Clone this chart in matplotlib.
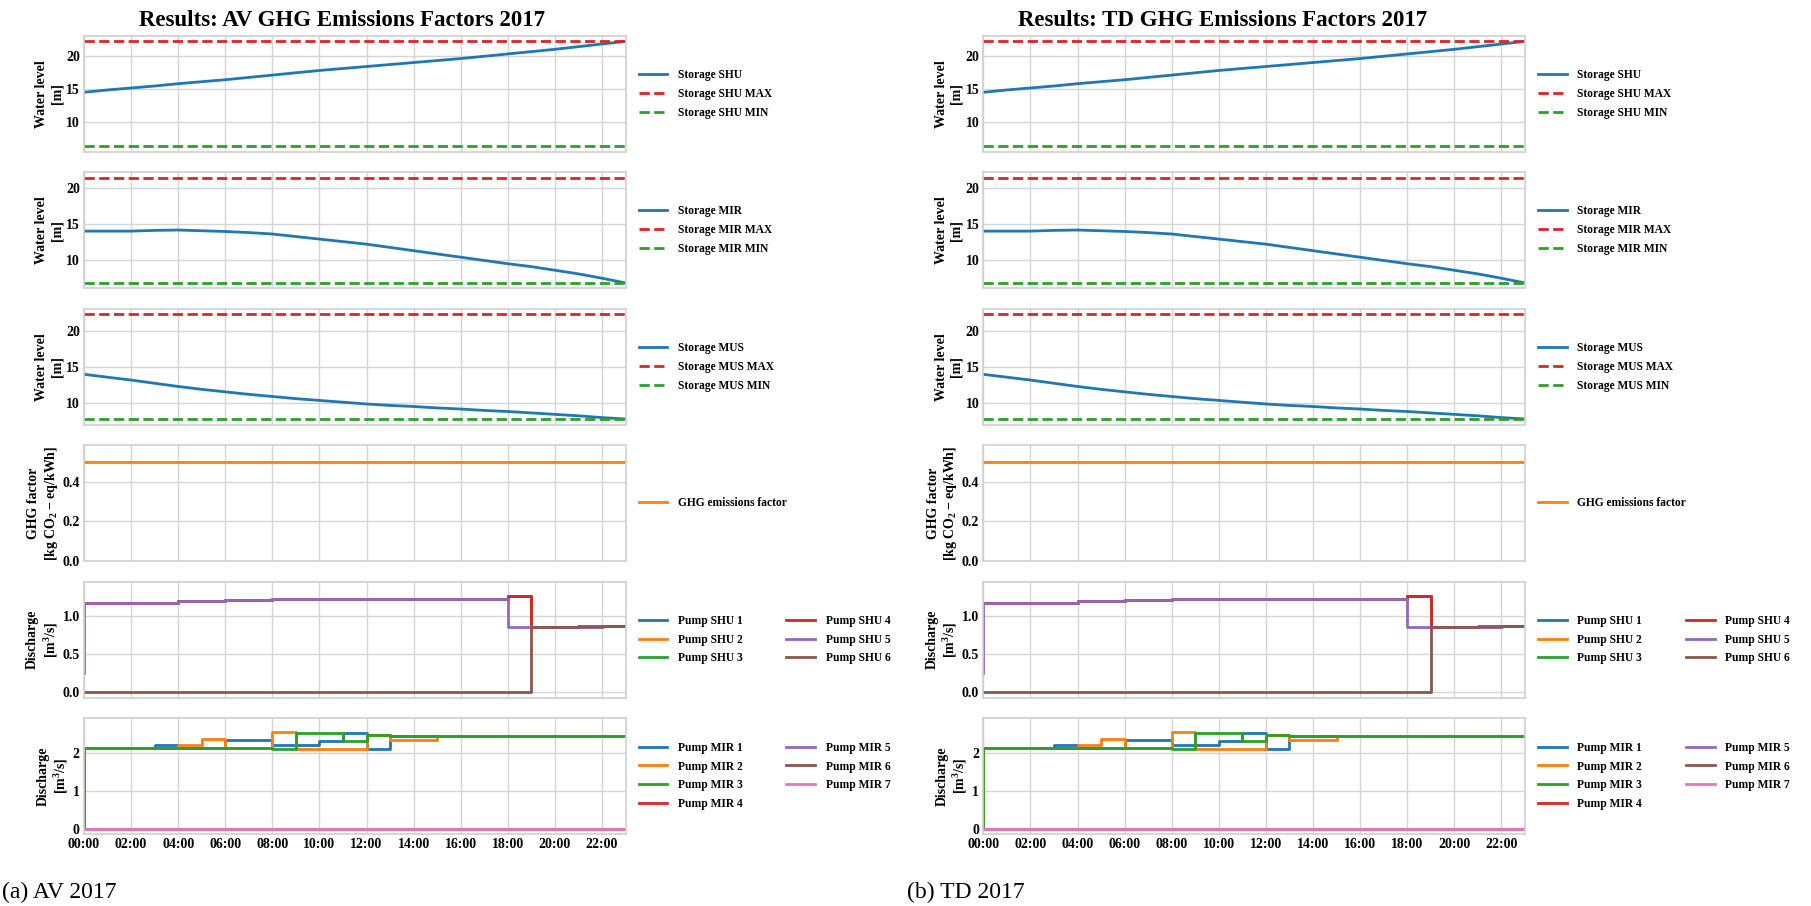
import matplotlib
matplotlib.use("Agg")
import matplotlib.pyplot as plt
from matplotlib.ticker import FuncFormatter, MultipleLocator
import numpy as np

plt.rcParams['font.family'] = ['Liberation Serif', 'DejaVu Serif']
plt.rcParams['font.weight'] = 'bold'
plt.rcParams['mathtext.default'] = 'regular'
plt.rcParams['axes.edgecolor'] = '#d0d0d0'
plt.rcParams['axes.linewidth'] = 1.2
plt.rcParams['grid.color'] = '#d5d5d5'
plt.rcParams['grid.linewidth'] = 1.0

# hours of the day (00:00 .. 23:00)
hours = np.arange(24)

# storage water levels [m]
shu_level = [14.5, 14.85, 15.15, 15.45, 15.8, 16.1, 16.4, 16.75, 17.1, 17.45,
             17.8, 18.1, 18.4, 18.7, 19.0, 19.3, 19.6, 19.95, 20.3, 20.65,
             21.0, 21.4, 21.8, 22.2]
shu_max, shu_min = 22.25, 6.3
mir_level = [14.0, 14.0, 14.0, 14.1, 14.15, 14.05, 13.95, 13.8, 13.6, 13.25,
             12.9, 12.55, 12.2, 11.75, 11.3, 10.85, 10.4, 9.95, 9.5, 9.1,
             8.6, 8.1, 7.5, 6.85]
mir_max, mir_min = 21.4, 6.85
mus_level = [14.0, 13.6, 13.2, 12.75, 12.3, 11.9, 11.55, 11.2, 10.9, 10.6,
             10.35, 10.1, 9.85, 9.65, 9.5, 9.3, 9.15, 8.95, 8.8, 8.6,
             8.4, 8.2, 7.95, 7.75]
mus_max, mus_min = 22.45, 7.7

# GHG emissions factor [kg CO2-eq/kWh]
ghg_factor = [0.5] * 24

# pump discharges [m3/s] (value i holds on the hour before hours[i])
shu_p4 = [1.17, 1.17, 1.17, 1.17, 1.17, 1.19, 1.19, 1.21, 1.21, 1.22, 1.22,
          1.22, 1.22, 1.22, 1.22, 1.22, 1.22, 1.22, 1.22, 1.25, 0.85, 0.85,
          0.85, 0.86]
shu_p1 = shu_p4
shu_p2 = shu_p4
shu_p3 = shu_p4
shu_p5 = [0.25, 1.17, 1.17, 1.17, 1.17, 1.19, 1.19, 1.21, 1.21, 1.22, 1.22,
          1.22, 1.22, 1.22, 1.22, 1.22, 1.22, 1.22, 1.22, 0.85, 0.85, 0.85,
          0.85, 0.86]
shu_p6 = [0.0] * 20 + [0.85, 0.85, 0.86, 0.86]

mir_p1 = [0.0, 2.13, 2.13, 2.13, 2.20, 2.13, 2.13, 2.34, 2.33, 2.21, 2.21,
          2.30, 2.50, 2.10, 2.44, 2.44, 2.43, 2.43, 2.43, 2.43, 2.43, 2.42,
          2.42, 2.42]
mir_p2 = [0.0, 2.13, 2.13, 2.13, 2.13, 2.21, 2.35, 2.13, 2.13, 2.53, 2.09,
          2.09, 2.09, 2.47, 2.33, 2.33, 2.43, 2.43, 2.43, 2.43, 2.43, 2.42,
          2.42, 2.42]
mir_p3 = [0.0, 2.13, 2.13, 2.13, 2.13, 2.13, 2.13, 2.13, 2.13, 2.09, 2.52,
          2.52, 2.31, 2.46, 2.44, 2.44, 2.43, 2.43, 2.43, 2.43, 2.43, 2.42,
          2.42, 2.42]
mir_p4 = [0.0] * 24
mir_p5 = [0.0] * 24
mir_p6 = [0.0] * 24
mir_p7 = [0.0] * 24

titles = ['Results: AV GHG Emissions Factors 2017',
          'Results: TD GHG Emissions Factors 2017']
captions = ['(a) AV 2017', '(b) TD 2017']

C = ['#1f77b4', '#ff7f0e', '#2ca02c', '#d62728', '#9467bd', '#8c564b', '#e377c2']

fig = plt.figure(figsize=(18.11, 9.06), dpi=100)

col_left = [0.0464, 0.543]
col_w = 0.299
row_h = 0.128
row_bottoms = [0.0795 + k * 0.1506 for k in range(5, -1, -1)]

lw = 2.0
leg_kw = dict(loc='center left', bbox_to_anchor=(1.005, 0.5), frameon=False,
              prop={'weight': 'bold', 'size': 8.3}, handlelength=2.5,
              handletextpad=0.9, labelspacing=0.6)


def storage(ax, level, vmax, vmin, name):
    ax.plot(hours, level, color=C[0], lw=lw, label='Storage ' + name)
    ax.plot(hours, [vmax] * 24, color=C[3], lw=lw, ls='--', label='Storage %s MAX' % name)
    ax.plot(hours, [vmin] * 24, color=C[2], lw=lw, ls='--', label='Storage %s MIN' % name)
    ax.set_ylabel('Water level\n[m]', fontsize=10, fontweight='bold', labelpad=2)
    ax.yaxis.set_major_locator(MultipleLocator(5))
    ax.legend(**leg_kw)


for c in range(2):
    axes = [fig.add_axes([col_left[c], b, col_w, row_h]) for b in row_bottoms]
    for ax in axes:
        ax.set_xlim(0, 23)
        ax.xaxis.set_major_locator(MultipleLocator(2))
        ax.grid(True)
        ax.set_axisbelow(True)
        ax.tick_params(length=0, labelsize=10, pad=3)
        for s in ax.spines.values():
            s.set_color('#d0d0d0')
        if ax is not axes[-1]:
            ax.set_xticklabels([])

    storage(axes[0], shu_level, shu_max, shu_min, 'SHU')
    storage(axes[1], mir_level, mir_max, mir_min, 'MIR')
    storage(axes[2], mus_level, mus_max, mus_min, 'MUS')

    ax = axes[3]
    ax.plot(hours, ghg_factor, color=C[1], lw=lw, label='GHG emissions factor')
    ax.set_ylim(0, 0.585)
    ax.yaxis.set_major_locator(MultipleLocator(0.2))
    ax.yaxis.set_major_formatter(FuncFormatter(lambda v, p: '%.1f' % v))
    ax.set_ylabel('GHG factor\n[kg CO$_2-$eq/kWh]', fontsize=10, fontweight='bold', labelpad=2)
    ax.legend(**leg_kw)

    ax = axes[4]
    for i, s in enumerate([shu_p1, shu_p2, shu_p3, shu_p4, shu_p5, shu_p6]):
        ax.plot(hours, s, color=C[i], lw=lw, drawstyle='steps-pre',
                label='Pump SHU %d' % (i + 1))
    ax.set_ylim(-0.07, 1.445)
    ax.yaxis.set_major_locator(MultipleLocator(0.5))
    ax.yaxis.set_major_formatter(FuncFormatter(lambda v, p: '%.1f' % v))
    ax.set_ylabel('Discharge\n[m$^3$/s]', fontsize=10, fontweight='bold', labelpad=2)
    ax.legend(ncol=2, columnspacing=3.8, **leg_kw)

    ax = axes[5]
    for i, s in enumerate([mir_p1, mir_p2, mir_p3, mir_p4, mir_p5, mir_p6, mir_p7]):
        ax.plot(hours, s, color=C[i], lw=lw, drawstyle='steps-pre',
                label='Pump MIR %d' % (i + 1))
    ax.set_ylim(-0.12, 2.9)
    ax.yaxis.set_major_locator(MultipleLocator(1))
    ax.set_ylabel('Discharge\n[m$^3$/s]', fontsize=10, fontweight='bold', labelpad=2)
    ax.legend(ncol=2, columnspacing=3.8, **leg_kw)
    ax.xaxis.set_major_formatter(FuncFormatter(lambda v, p: '%02d:00' % int(round(v))))

    fig.text([0.189, 0.675][c], 0.977, titles[c], ha='center', va='center',
             fontsize=16.5, fontweight='bold')
    fig.text([0.001, 0.5006][c], 0.015, captions[c], ha='left', va='center',
             fontsize=17, fontweight='normal')

fig.savefig('out.png', dpi=100)
